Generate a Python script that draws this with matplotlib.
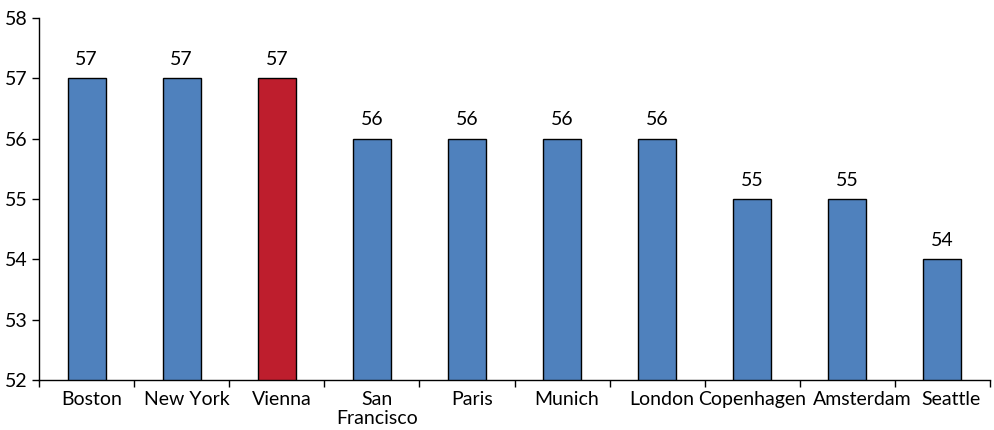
import matplotlib.pyplot as plt
import matplotlib.transforms as mtransforms
import numpy as np

plt.rcParams['font.family'] = ['Lato', 'DejaVu Sans']

cities = ["Boston", "New York", "Vienna", "San\nFrancisco", "Paris", "Munich",
          "London", "Copenhagen", "Amsterdam", "Seattle"]
scores = [57, 57, 57, 56, 56, 56, 56, 55, 55, 54]
highlight = "Vienna"

blue = "#4F81BD"
red = "#BE1E2D"
colors = [red if c == highlight else blue for c in cities]

fig = plt.figure(figsize=(9.95, 4.3), dpi=100)
ax = fig.add_axes([39 / 995, 1 - 380 / 430, (990 - 39) / 995, (380 - 18) / 430])

x = np.arange(len(cities))
ax.bar(x, scores, width=0.4, color=colors, edgecolor="black", linewidth=1, zorder=2)

for xi, v in zip(x, scores):
    ax.text(xi, v + 0.17, str(v), ha="center", va="bottom", fontsize=14)

ax.set_xlim(-0.5, len(cities) - 0.5)
ax.set_ylim(52, 58)
ax.set_yticks(range(52, 59))
ax.tick_params(axis="y", labelsize=14, direction="out", length=5, width=1, pad=3)

# labels centred on bars, tick marks between categories
ax.set_xticks(x)
ax.set_xticklabels(cities, fontsize=14, linespacing=1.1)
ax.tick_params(axis="x", which="major", length=0, pad=8)
ax.set_xticks(np.arange(-0.5, len(cities)), minor=True)
ax.tick_params(axis="x", which="minor", length=5, width=1, direction="out")

# nudge labels right a little so the long ones at the end don't collide
shift_px = [5, 5, 5, 5, 5, 5, 5, 0, 15, 9]
for lbl, dx in zip(ax.get_xticklabels(), shift_px):
    lbl.set_transform(lbl.get_transform() +
                      mtransforms.ScaledTranslation(dx / 100, 0, fig.dpi_scale_trans))

for s in ["top", "right"]:
    ax.spines[s].set_visible(False)
for s in ["left", "bottom"]:
    ax.spines[s].set_linewidth(1)

fig.savefig("out.png", dpi=100)
